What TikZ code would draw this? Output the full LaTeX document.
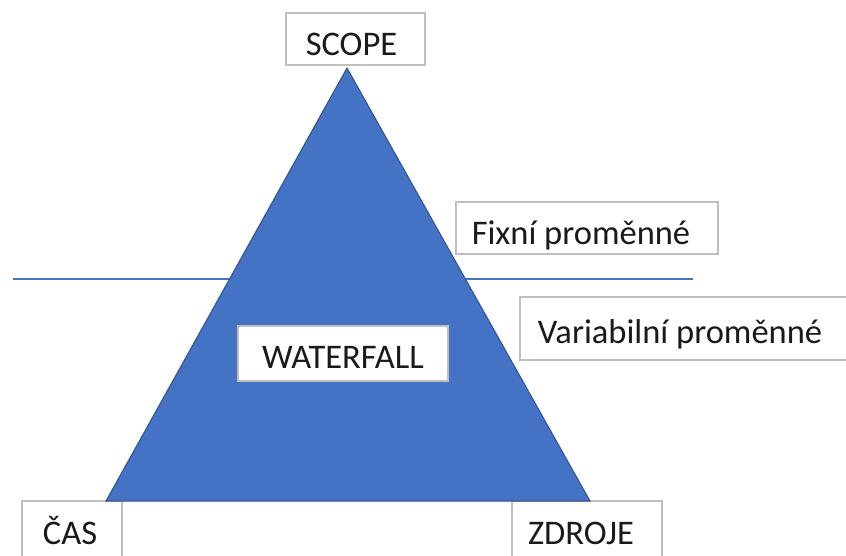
\documentclass[tikz,border=0pt]{standalone}
\usepackage{fontspec}
\setmainfont{Carlito}
\definecolor{triblue}{HTML}{4472C4}
\definecolor{triedge}{HTML}{2F528F}
\definecolor{boxgray}{HTML}{BFBFBF}
\definecolor{txt}{HTML}{1A1A1A}
\begin{document}
\begin{tikzpicture}[x=1pt,y=-1pt,
  box/.style={draw=boxgray,line width=1.2pt,fill=white,inner sep=0pt,rectangle},
  lbl/.style={anchor=base,inner sep=0pt,text=txt,font=\fontsize{34.5}{40}\selectfont}]
\useasboundingbox (0,0) rectangle (846,556);
% horizontal divider line
\coordinate (lineL) at (13,279);
\coordinate (lineR) at (693,279);
\draw[triblue,line width=1.6pt] (lineL) -- (lineR);
% bottom boxes (under triangle)
\node[box,minimum width=100pt,minimum height=60pt] (casbox) at (72,531) {};
\node[box,minimum width=150pt,minimum height=60pt] (zdrbox) at (587,531) {};
% triangle
\coordinate (apex) at (347,68);
\coordinate (bl) at (106,501);
\coordinate (br) at (590,501);
\draw[fill=triblue,draw=triedge,line width=1pt,line join=miter] (apex) -- (br) -- (bl) -- cycle;
% boxes
\node[box,minimum width=139pt,minimum height=52pt] (scopebox) at (355.5,39) {};
\node[box,minimum width=262pt,minimum height=52pt] (fixbox) at (587,228) {};
\node[box,minimum width=330pt,minimum height=63pt] (varbox) at (685,328.5) {};
\node[box,minimum width=210pt,minimum height=55pt] (wfbox) at (343,353.5) {};
% labels
\node[lbl] (scope) at (351.5,56) {SCOPE};
\node[lbl] (fix) at (581,244) {Fixní proměnné};
\node[lbl] (var) at (680,343) {Variabilní proměnné};
\node[lbl] (wf) at (343,368) {WATERFALL};
\node[lbl] (cas) at (70,544) {ČAS};
\node[lbl] (zdr) at (581,544) {ZDROJE};
\end{tikzpicture}
\end{document}
